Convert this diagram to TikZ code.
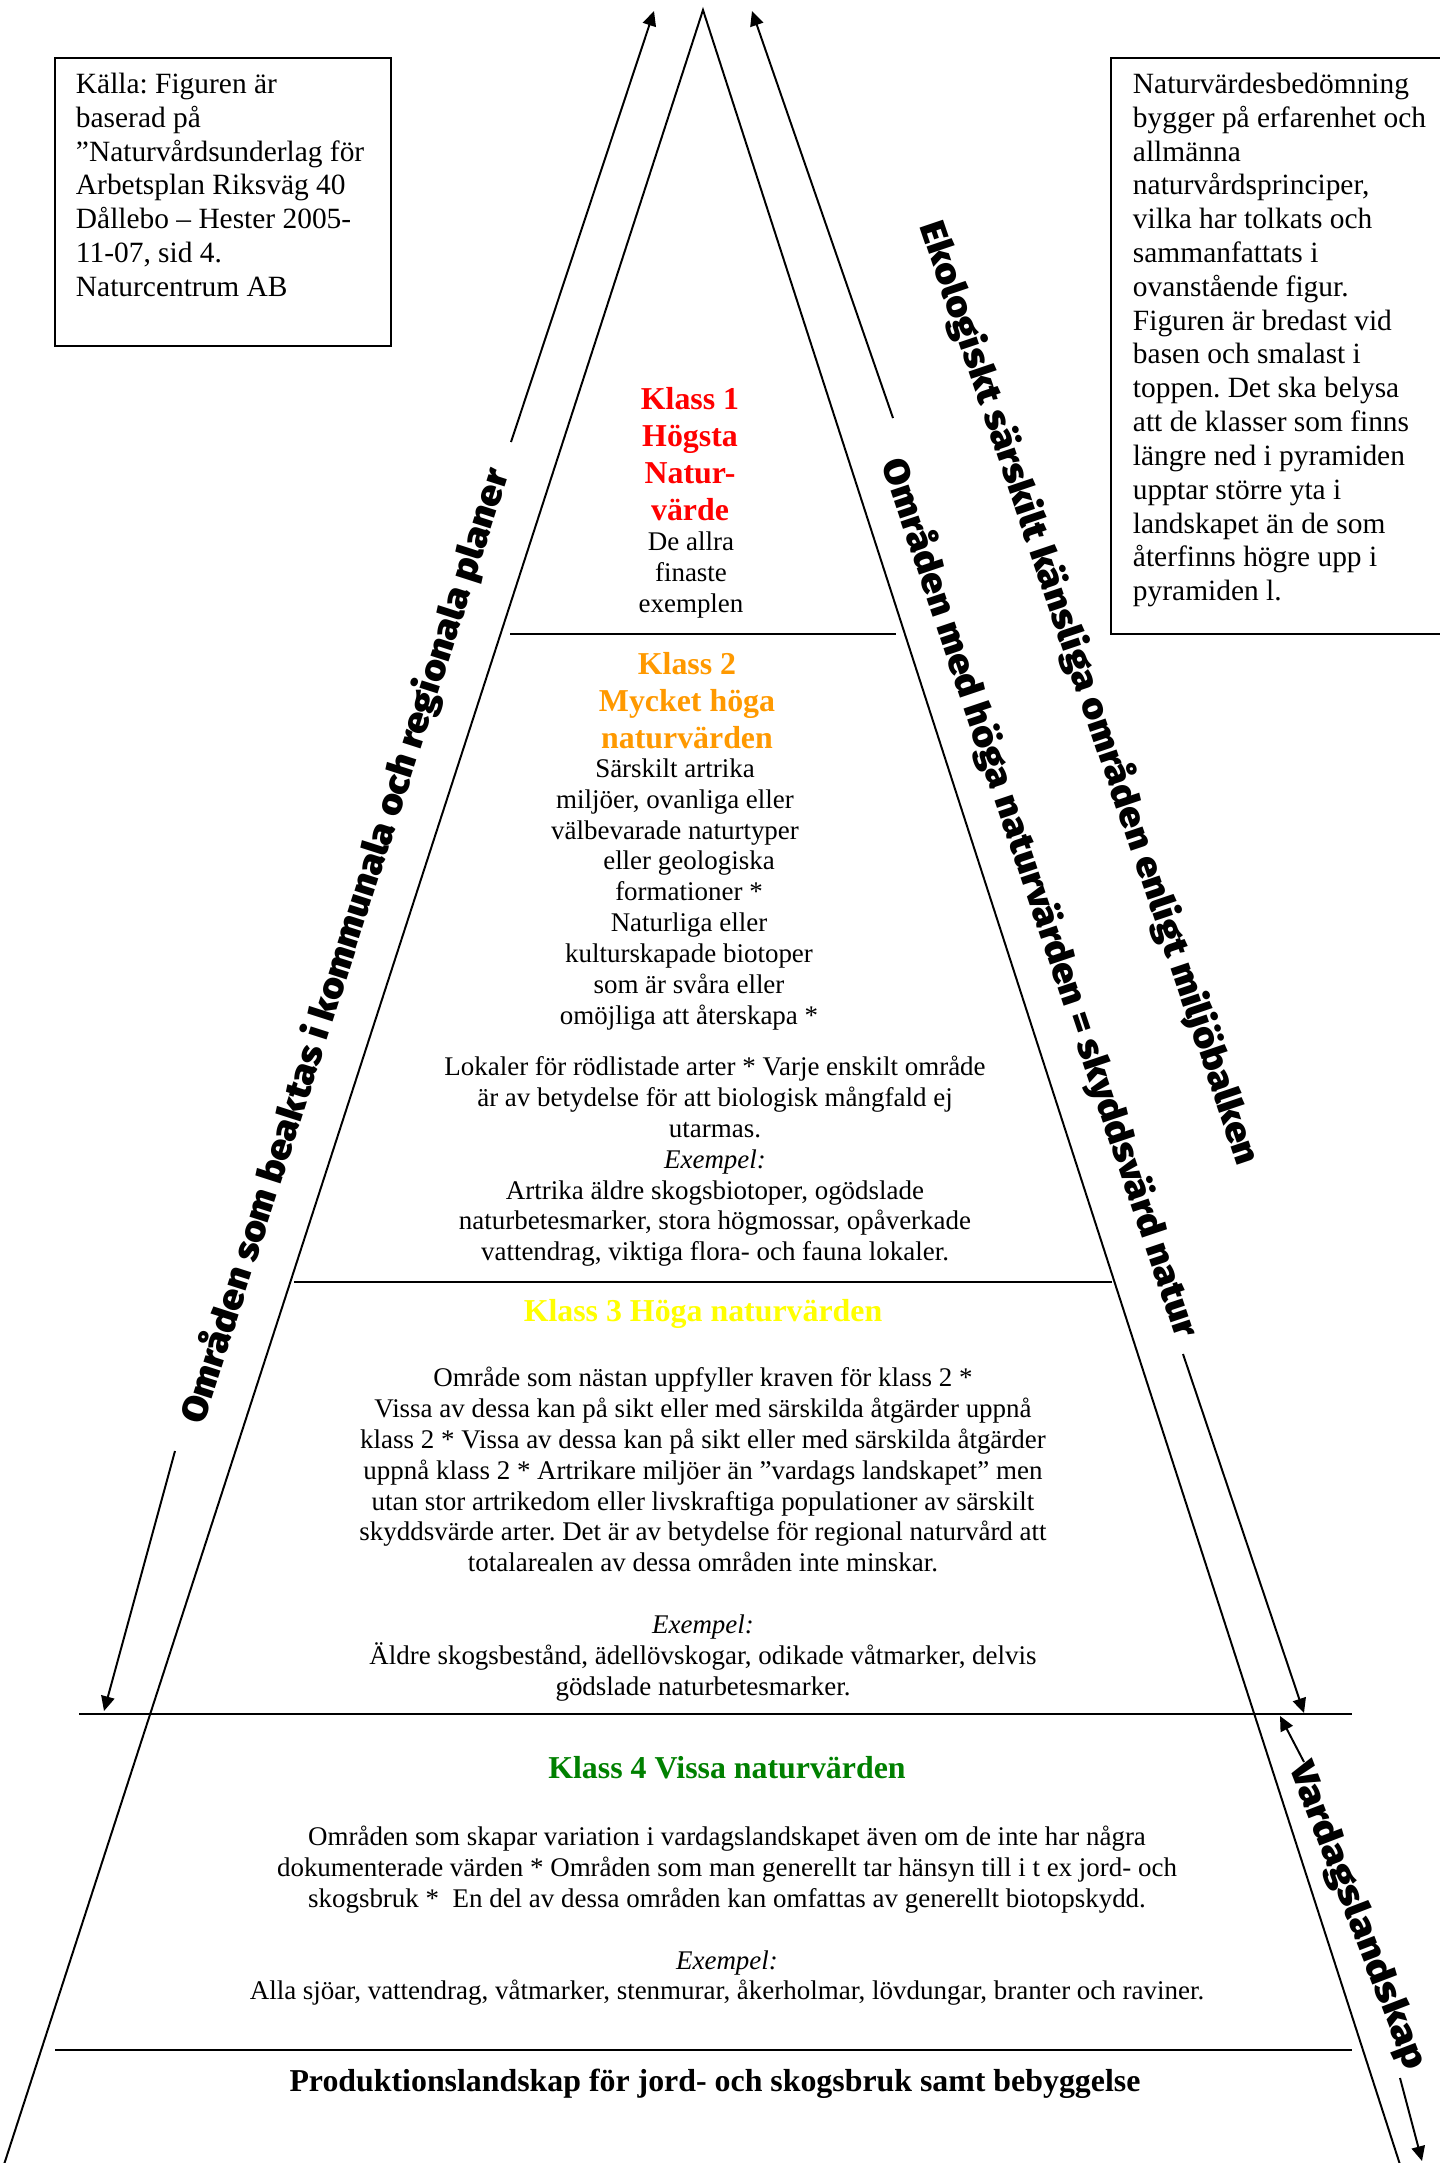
\documentclass[tikz,border=0pt]{standalone}
\usepackage{fontspec}
\setmainfont{Liberation Serif}
\newfontfamily\tjock{Fira Sans Black}
\usetikzlibrary{arrows.meta}
\definecolor{klassett}{RGB}{255,0,0}
\definecolor{klasstva}{RGB}{255,153,0}
\definecolor{klasstre}{RGB}{255,255,0}
\definecolor{klassfyra}{RGB}{0,128,0}
\frenchspacing
% texten dras ut i bredd tills den fyller #1
\makeatletter
\newcommand{\sned}[2]{\setbox0\hbox{#2}%
	\edef\snedfaktor{\strip@pt\dimexpr 1pt*\number\dimexpr#1\relax/\number\wd0\relax}%
	\edef\snedtmp{\noexpand\addfontfeatures{FakeStretch=\snedfaktor}}\snedtmp #2}
\makeatother

\begin{document}
\begin{tikzpicture}[x=0.408pt,y=-0.408pt,>={Triangle[length=6pt,width=5.5pt]},line width=0.8pt]
		\tikzstyle{rubrik}=[inner sep=0pt,font=\fontsize{13pt}{15.1pt}\selectfont\bfseries,align=center]
		\tikzstyle{brod}=[inner sep=0pt,font=\fontsize{11pt}{12.6pt}\selectfont,align=center]
		\tikzstyle{ruta}=[inner sep=0pt,font=\fontsize{12pt}{13.8pt}\selectfont,align=left,anchor=north west]
		\tikzstyle{skikt}=[line width=1.2pt]
		\tikzstyle{snedtext}=[inner sep=0pt,font=\tjock\fontsize{14.5pt}{16pt}\selectfont]

		\useasboundingbox (0,0) rectangle (1439,2163);

		% pyramiden
		\coordinate (topp) at (703,10);
		\coordinate (vbas) at (-1,2180);
		\coordinate (hbas) at (1405,2180);
		\draw (vbas) -- (topp) -- (hbas);
		\draw[skikt] (510,634) -- (896,634);
		\draw[skikt] (294,1282) -- (1112,1282);
		\draw[skikt] (79,1714) -- (1352,1714);
		\draw[skikt] (55,2050) -- (1352,2050);

		% rutorna
		\draw (55,58) rectangle (391,346);
		\draw (1111,58) rectangle (1460,634);
		\node[ruta] (kalla) at (75,72) {K\"alla: Figuren \"ar\\baserad p\aa\\”Naturv\aa rdsunderlag f\"or\\Arbetsplan Riksv\"ag 40\\D\aa llebo – Hester 2005-\\11-07, sid 4.\\Naturcentrum AB};
		\node[ruta] (bed) at (1132,72) {Naturv\"ardesbed\"omning\\bygger p\aa{} erfarenhet och\\allm\"anna\\naturv\aa rdsprinciper,\\vilka har tolkats och\\sammanfattats i\\ovanst\aa ende figur.\\Figuren \"ar bredast vid\\basen och smalast i\\toppen. Det ska belysa\\att de klasser som finns\\l\"angre ned i pyramiden\\upptar st\"orre yta i\\landskapet \"an de som\\\aa terfinns h\"ogre upp i\\pyramiden l.};

		% klasserna
		\node[rubrik,text=klassett,anchor=north] (k1) at (690,386) {Klass 1\\H\"ogsta\\Natur-\\v\"arde};
		\node[brod,anchor=north] (k1t) at (691,531) {De allra\\finaste\\exemplen};
		\node[rubrik,text=klasstva,anchor=north] (k2) at (687,651) {Klass 2\\Mycket h\"oga\\naturv\"arden};
		\node[brod,anchor=north] (k2a) at (675,758) {S\"arskilt artrika\\milj\"oer, ovanliga eller\\v\"albevarade naturtyper};
		\node[brod,anchor=north] (k2b) at (689,850) {eller geologiska\\formationer *\\Naturliga eller\\kulturskapade biotoper\\som \"ar sv\aa ra eller\\om\"ojliga att \aa terskapa *};
		\node[brod,anchor=north] (k2c) at (715,1055) {Lokaler f\"or r\"odlistade arter * Varje enskilt omr\aa de\\\"ar av betydelse f\"or att biologisk m\aa ngfald ej\\utarmas.\\\textit{Exempel:}\\Artrika \"aldre skogsbiotoper, og\"odslade\\naturbetesmarker, stora h\"ogmossar, op\aa verkade\\vattendrag, viktiga flora- och fauna lokaler.};
		\node[rubrik,text=klasstre,anchor=base] (k3) at (703,1321) {Klass 3 H\"oga naturv\"arden};
		\node[brod,anchor=north] (k3t) at (703,1366) {Omr\aa de som n\"astan uppfyller kraven f\"or klass 2 *\\Vissa av dessa kan p\aa{} sikt eller med s\"arskilda \aa tg\"arder uppn\aa\\klass 2 * Vissa av dessa kan p\aa{} sikt eller med s\"arskilda \aa tg\"arder\\uppn\aa{} klass 2 * Artrikare milj\"oer \"an ”vardags landskapet” men\\utan stor artrikedom eller livskraftiga populationer av s\"arskilt\\skyddsv\"arde arter. Det \"ar av betydelse f\"or regional naturv\aa rd att\\totalarealen av dessa omr\aa den inte minskar.\\[12.6pt]\textit{Exempel:}\\\"Aldre skogsbest\aa nd, \"adell\"ovskogar, odikade v\aa tmarker, delvis\\g\"odslade naturbetesmarker.};
		\node[rubrik,text=klassfyra,anchor=base] (k4) at (727,1778) {Klass 4 Vissa naturv\"arden};
		\node[brod,anchor=north] (k4t) at (727,1825) {Omr\aa den som skapar variation i vardagslandskapet \"aven om de inte har n\aa gra\\dokumenterade v\"arden * Omr\aa den som man generellt tar h\"ansyn till i t ex jord- och\\skogsbruk *\ \ En del av dessa omr\aa den kan omfattas av generellt biotopskydd.\\[12.6pt]\textit{Exempel:}\\Alla sj\"oar, vattendrag, v\aa tmarker, stenmurar, \aa kerholmar, l\"ovdungar, branter och raviner.};
		\node[rubrik,anchor=base] (prod) at (715,2091) {Produktionslandskap f\"or jord- och skogsbruk samt bebyggelse};

		% texterna utmed pilarna
		\node[snedtext,rotate=72.2] (plan) at (345,946) {\sned{408pt}{Omr\aa den som beaktas i kommunala och regionala planer}};
		\node[snedtext,rotate=-71.4] (skydd) at (1040,898) {\sned{377pt}{Omr\aa den med h\"oga naturv\"arden = skyddsv\"ard natur}};
		\node[snedtext,rotate=-71.3] (eko) at (1090,693) {\sned{405pt}{Ekologiskt s\"arskilt k\"ansliga omr\aa den enligt milj\"obalken}};
		\node[snedtext,rotate=-69] (vardag) at (1357,1916) {\sned{133pt}{Vardagslandskap}};

		% pilarna
		\coordinate (p1) at (511,442);
		\coordinate (p1s) at (654,11);
		\coordinate (p2) at (175,1451);
		\coordinate (p2s) at (104,1711);
		\coordinate (p3) at (893,418);
		\coordinate (p3s) at (752,11);
		\coordinate (p4) at (1183,1354);
		\coordinate (p4s) at (1304,1713);
		\coordinate (p5) at (1304,1762);
		\coordinate (p5s) at (1280,1716);
		\coordinate (p6) at (1400,2078);
		\coordinate (p6s) at (1422,2161);
		\draw[->] (p1) -- (p1s);
		\draw[->] (p2) -- (p2s);
		\draw[->] (p3) -- (p3s);
		\draw[->] (p4) -- (p4s);
		\draw[->] (p5) -- (p5s);
		\draw[->] (p6) -- (p6s);
	\end{tikzpicture}
\end{document}
